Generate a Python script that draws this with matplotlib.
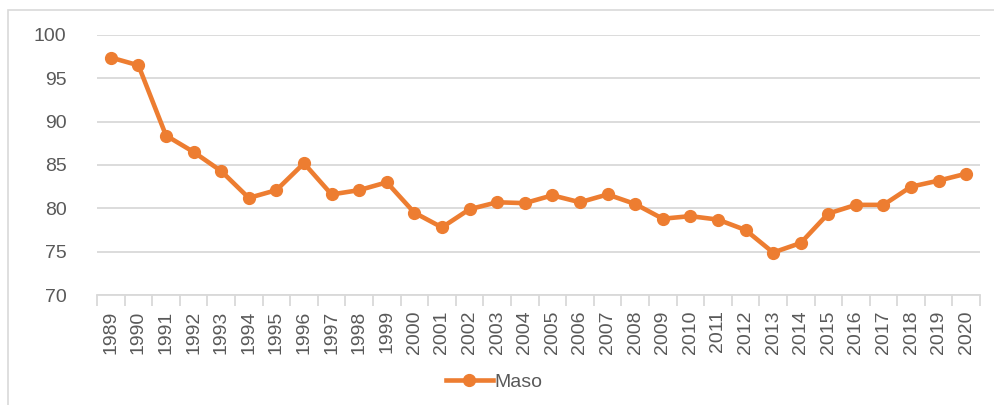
import numpy as np
import matplotlib.pyplot as plt
from matplotlib.patches import Rectangle

years = [str(y) for y in range(1989, 2021)]
maso = [97.4, 96.5, 88.4, 86.5, 84.3, 81.2, 82.1, 85.2, 81.6, 82.1,
        83.0, 79.5, 77.8, 79.9, 80.7, 80.6, 81.5, 80.7, 81.6, 80.5,
        78.8, 79.1, 78.7, 77.5, 74.9, 76.0, 79.4, 80.4, 80.4, 82.5,
        83.2, 84.0]
yticks = [70, 75, 80, 85, 90, 95, 100]

plt.rcParams['font.family'] = ['Liberation Sans', 'DejaVu Sans']
txt = '#595959'
orange = '#ED7D31'

fig = plt.figure(figsize=(9.94, 4.05), dpi=100)
ax = fig.add_axes([0.0976, 0.2716, 0.8884, 0.642])

# outer chart border
fig.patches.append(Rectangle((8/994, -0.1), 1.2, 1.1 - 10/405, transform=fig.transFigure,
                             fill=False, edgecolor='#D9D9D9', linewidth=1.2))

x = np.arange(len(years))
ax.plot(x, maso, color=orange, linewidth=3.3, marker='o', markersize=8.5, label='Maso',
        solid_joinstyle='round', zorder=3)

ax.set_ylim(70, 100)
ax.set_xlim(-0.5, len(years) - 0.5)
ax.set_yticks(yticks)
ax.grid(axis='y', color='#D9D9D9', linewidth=1.3)
ax.set_axisbelow(True)
for s in ['top', 'right', 'left']:
    ax.spines[s].set_visible(False)
ax.spines['bottom'].set_color('#D9D9D9')
ax.spines['bottom'].set_linewidth(1.3)

ax.set_xticks(x)
ax.set_xticklabels(years, rotation=90, fontsize=14, color=txt)
ax.tick_params(axis='x', which='major', length=0, pad=11)
ax.set_xticks(np.arange(-0.5, len(years)), minor=True)
ax.tick_params(axis='x', which='minor', length=8, color='#D9D9D9', width=1.3)
ax.tick_params(axis='y', length=0, labelsize=14, labelcolor=txt, pad=22)

ax.legend(loc='center', bbox_to_anchor=(0.45, -0.335), frameon=False, fontsize=14,
          labelcolor=txt, handlelength=2.4, handletextpad=0.1)

fig.savefig('out.png', dpi=100)
